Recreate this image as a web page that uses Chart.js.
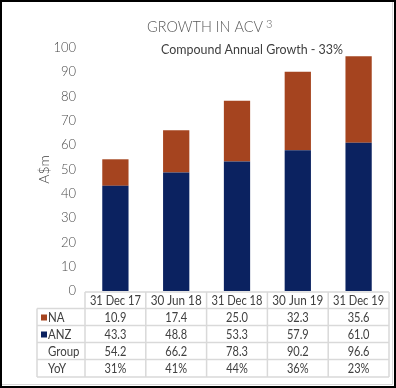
<!DOCTYPE html>
<html>
<head>
<meta charset="utf-8">
<script src="https://cdn.jsdelivr.net/npm/chart.js@4"></script>
<style>
  html, body { margin: 0; padding: 0; background: #fff; }
  #wrap { position: relative; width: 396px; height: 388px; }
</style>
</head>
<body>
<div id="wrap"><canvas id="acvChart" width="396" height="388"></canvas></div>
<script>
// data
const periods = ['31 Dec 17', '30 Jun 18', '31 Dec 18', '30 Jun 19', '31 Dec 19'];
const naValues = [10.9, 17.4, 25.0, 32.3, 35.6];
const anzValues = [43.3, 48.8, 53.3, 57.9, 61.0];
const groupValues = [54.2, 66.2, 78.3, 90.2, 96.6];
const yoyValues = ['31%', '41%', '44%', '36%', '23%'];

const NA_COLOR = '#A5441F';
const ANZ_COLOR = '#0B2260';
const FONT = 'Lato, "Open Sans", sans-serif';

/* --- frame, titles and data table --- */
const decorPlugin = {
  id: 'decor',
  afterDraw(chart) {
    const ctx = chart.ctx;
    const x = chart.scales.x;

    ctx.save();

    // outer frame
    ctx.fillStyle = '#000';
    ctx.fillRect(0, 0, 396, 2);
    ctx.fillRect(0, 0, 2, 388);
    ctx.fillRect(394, 0, 2, 388);
    ctx.fillRect(0, 386, 396, 2);
    ctx.strokeStyle = '#d9d9d9';
    ctx.lineWidth = 1;
    ctx.beginPath();
    ctx.moveTo(392.5, 2); ctx.lineTo(392.5, 384.5); ctx.lineTo(2, 384.5);
    ctx.stroke();

    // title
    ctx.fillStyle = '#595959';
    ctx.textBaseline = 'alphabetic';
    ctx.textAlign = 'left';
    ctx.font = '300 16px ' + FONT;
    const t = 'GROWTH IN ACV';
    const tw = Math.min(ctx.measureText(t).width, 116);
    const tx = 147;
    ctx.fillText(t, tx, 32, 116);
    ctx.font = '300 11px ' + FONT;
    ctx.fillText('3', tx + tw + 3, 28);

    // subtitle
    ctx.fillStyle = '#404040';
    ctx.font = '13px ' + FONT;
    ctx.textAlign = 'center';
    ctx.fillText('Compound Annual Growth - 33%', 252, 54, 182);

    // table
    const step = x.getPixelForValue(1) - x.getPixelForValue(0);
    const tableLeft = 37;
    const rowTops = [292, 308.5, 325.5, 342.5, 359.5, 377];
    const colEdges = [];
    for (let i = 0; i < periods.length; i++) colEdges.push(x.getPixelForValue(i) - step / 2);
    colEdges.push(x.getPixelForValue(periods.length - 1) + step / 2);

    ctx.strokeStyle = '#d9d9d9';
    ctx.lineWidth = 1.5;
    ctx.beginPath();
    ctx.moveTo(colEdges[0], rowTops[0]); ctx.lineTo(colEdges[colEdges.length - 1], rowTops[0]);
    for (let r = 1; r < rowTops.length; r++) {
      ctx.moveTo(tableLeft, rowTops[r]); ctx.lineTo(colEdges[colEdges.length - 1], rowTops[r]);
    }
    colEdges.forEach(e => { ctx.moveTo(e, rowTops[0]); ctx.lineTo(e, rowTops[rowTops.length - 1]); });
    ctx.moveTo(tableLeft, rowTops[1]); ctx.lineTo(tableLeft, rowTops[rowTops.length - 1]);
    ctx.stroke();

    const rows = [
      periods,
      naValues.map(v => v.toFixed(1)),
      anzValues.map(v => v.toFixed(1)),
      groupValues.map(v => v.toFixed(1)),
      yoyValues
    ];
    ctx.font = '13px ' + FONT;
    ctx.fillStyle = '#404040';
    ctx.textAlign = 'center';
    ctx.textBaseline = 'middle';
    rows.forEach((row, r) => {
      const cy = (rowTops[r] + rowTops[r + 1]) / 2 + 0.5;
      row.forEach((txt, i) => {
        const w = ctx.measureText(txt).width * 0.85;
        ctx.fillText(txt, x.getPixelForValue(i), cy, r === 0 ? 51 : w);
      });
    });

    // row labels
    ctx.textAlign = 'left';
    const labels = [null, 'NA', 'ANZ', 'Group', 'YoY'];
    const swatches = [null, NA_COLOR, ANZ_COLOR, null, null];
    for (let r = 1; r < labels.length; r++) {
      const cy = (rowTops[r] + rowTops[r + 1]) / 2 + 0.5;
      if (swatches[r]) {
        ctx.fillStyle = swatches[r];
        ctx.fillRect(41, cy - 3, 6, 6);
      }
      ctx.fillStyle = '#404040';
      ctx.fillText(labels[r], 48, cy, ctx.measureText(labels[r]).width * 0.88);
    }

    ctx.restore();
  }
};

new Chart(document.getElementById('acvChart'), {
  type: 'bar',
  data: {
    labels: periods,
    datasets: [
      { label: 'ANZ', data: anzValues, backgroundColor: ANZ_COLOR, barPercentage: 0.6, categoryPercentage: 0.72 },
      { label: 'NA', data: naValues, backgroundColor: NA_COLOR, barPercentage: 0.6, categoryPercentage: 0.72 }
    ]
  },
  options: {
    responsive: false,
    animation: false,
    layout: { padding: { top: 48, right: 7, bottom: 97, left: 0 } },
    plugins: {
      legend: { display: false },
      tooltip: { enabled: false }
    },
    scales: {
      x: {
        stacked: true,
        display: false
      },
      y: {
        stacked: true,
        min: 0,
        max: 100,
        afterFit: s => { s.width = 85; },
        grid: { display: false, drawTicks: false },
        border: { display: false },
        ticks: {
          stepSize: 10,
          padding: 9,
          color: '#4a4a4a',
          font: { family: FONT, size: 13, weight: '300' }
        },
        title: {
          display: true,
          text: 'A$m',
          color: '#404040',
          font: { family: FONT, size: 14, weight: '300' },
          padding: { top: 36, bottom: 0 }
        }
      }
    }
  },
  plugins: [decorPlugin]
});
</script>
</body>
</html>
